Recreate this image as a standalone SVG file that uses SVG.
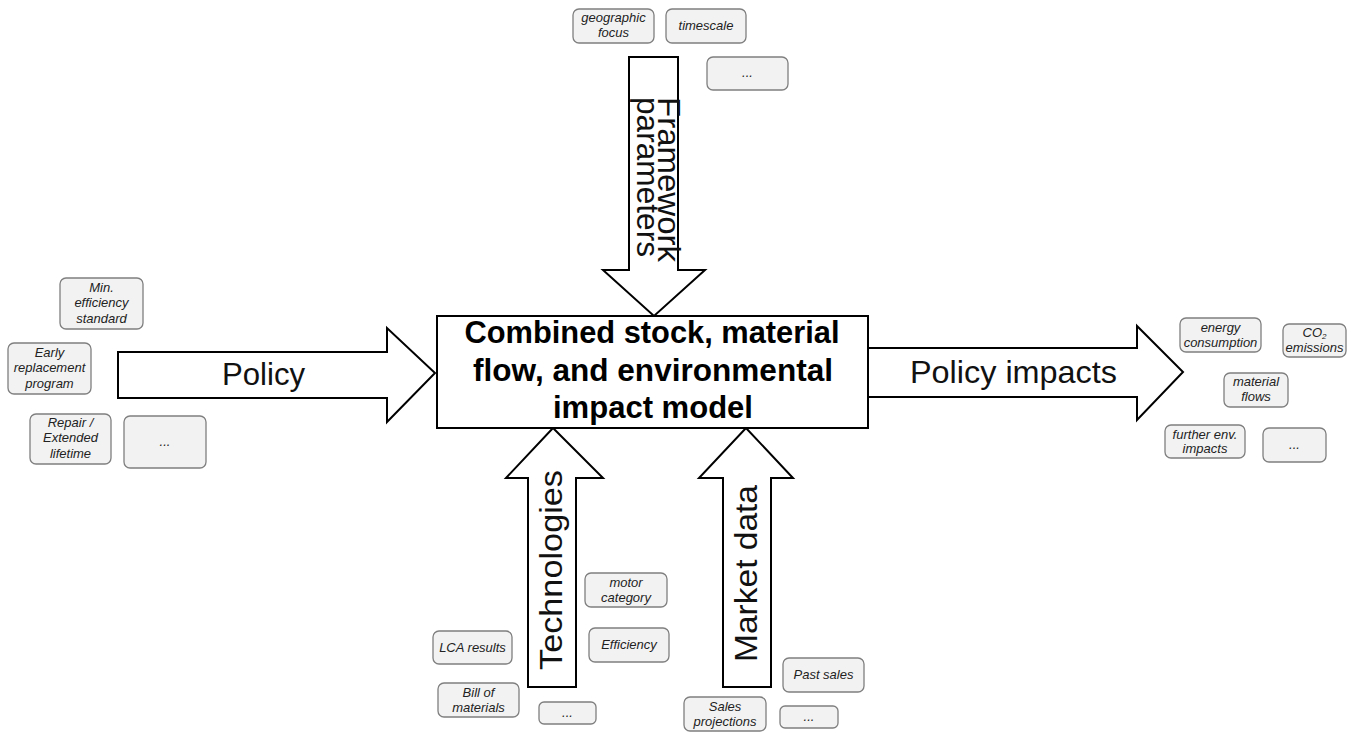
<svg xmlns="http://www.w3.org/2000/svg" width="1356" height="733" viewBox="0 0 1356 733">
<style>
.arrow{fill:#fff;stroke:#000;stroke-width:2;stroke-linejoin:miter}
.lbl{font-family:"Liberation Sans",Arial,sans-serif;font-size:32px;fill:#111}
.main{fill:#fff;stroke:#000;stroke-width:2}
.mt{font-family:"Liberation Sans",Arial,sans-serif;font-weight:bold;font-size:31px;fill:#000;text-anchor:middle}
.sb{fill:#f2f2f2;stroke:#7f7f7f;stroke-width:1.3}
.st{font-family:"Liberation Sans",Arial,sans-serif;font-style:italic;font-size:13px;fill:#222;text-anchor:middle}
</style>
<rect width="1356" height="733" fill="#fff"/>
<g id="connectors">
  <polygon class="arrow" points="629,57 678,57 678,270 705,270 654,316 603,270 629,270"/>
  <polygon class="arrow" points="118,352 387,352 387,328 435,373 387,422 387,398 118,398"/>
  <polygon class="arrow" points="868,348 1137,348 1137,326 1183,372 1137,420 1137,397 868,397"/>
  <polygon class="arrow" points="528,687 528,478 506,478 553,428 603,478 576,478 576,687"/>
  <polygon class="arrow" points="723,687 723,478 699,478 746,428 793,478 771,478 771,687"/>
  <text class="lbl" transform="translate(658,97) rotate(90)" textLength="165" lengthAdjust="spacingAndGlyphs">Framework</text>
  <text class="lbl" transform="translate(637,97) rotate(90)" textLength="160" lengthAdjust="spacingAndGlyphs">parameters</text>
  <text class="lbl" x="222" y="385" textLength="83" lengthAdjust="spacingAndGlyphs">Policy</text>
  <text class="lbl" x="910" y="383" textLength="207" lengthAdjust="spacingAndGlyphs">Policy impacts</text>
  <text class="lbl" transform="translate(562,670) rotate(-90)" textLength="200" lengthAdjust="spacingAndGlyphs" font-size="33">Technologies</text>
  <text class="lbl" transform="translate(757,662) rotate(-90)" textLength="177" lengthAdjust="spacingAndGlyphs" font-size="33">Market data</text>
</g>
<g id="model">
  <rect class="main" x="437" y="316" width="431" height="112"/>
  <text class="mt" x="652" y="343" textLength="375" lengthAdjust="spacingAndGlyphs">Combined stock, material</text>
  <text class="mt" x="653" y="381" textLength="360" lengthAdjust="spacingAndGlyphs">flow, and environmental</text>
  <text class="mt" x="653" y="418" textLength="200" lengthAdjust="spacingAndGlyphs">impact model</text>
</g>
<g id="geographic-focus"><rect class="sb" x="573" y="9" width="81" height="34" rx="6"/><text class="st" x="613.5" y="22">geographic</text><text class="st" x="613.5" y="37">focus</text></g>
<g id="timescale"><rect class="sb" x="666" y="9" width="80" height="34" rx="6"/><text class="st" x="706" y="30">timescale</text></g>
<g id="framework-more"><rect class="sb" x="707" y="57" width="81" height="33" rx="6"/><text class="st" x="747.5" y="77">...</text></g>
<g id="min-efficiency"><rect class="sb" x="60" y="278" width="83" height="51" rx="6"/><text class="st" x="101.5" y="292">Min.</text><text class="st" x="101.5" y="307">efficiency</text><text class="st" x="101.5" y="323">standard</text></g>
<g id="early-replacement"><rect class="sb" x="8" y="343" width="83" height="51" rx="6"/><text class="st" x="49.5" y="357">Early</text><text class="st" x="49.5" y="372">replacement</text><text class="st" x="49.5" y="388">program</text></g>
<g id="repair"><rect class="sb" x="30" y="414" width="81" height="50" rx="6"/><text class="st" x="70.5" y="427">Repair /</text><text class="st" x="70.5" y="442">Extended</text><text class="st" x="70.5" y="458">lifetime</text></g>
<g id="policy-more"><rect class="sb" x="124" y="416" width="82" height="52" rx="6"/><text class="st" x="165" y="446">...</text></g>
<g id="energy"><rect class="sb" x="1180" y="318" width="81" height="34" rx="6"/><text class="st" x="1220.5" y="332">energy</text><text class="st" x="1220.5" y="347">consumption</text></g>
<g id="co2"><rect class="sb" x="1283" y="324" width="63" height="33" rx="6"/><text class="st" x="1314.5" y="337">CO<tspan font-size="8" dy="1.5">2</tspan></text><text class="st" x="1314.5" y="352">emissions</text></g>
<g id="material-flows"><rect class="sb" x="1224" y="373" width="64" height="34" rx="6"/><text class="st" x="1256" y="386">material</text><text class="st" x="1256" y="401">flows</text></g>
<g id="further-env"><rect class="sb" x="1165" y="425" width="80" height="33" rx="6"/><text class="st" x="1205" y="439">further env.</text><text class="st" x="1205" y="453">impacts</text></g>
<g id="impacts-more"><rect class="sb" x="1263" y="428" width="63" height="34" rx="6"/><text class="st" x="1294.5" y="449">...</text></g>
<g id="motor-category"><rect class="sb" x="585" y="573" width="82" height="34" rx="6"/><text class="st" x="626" y="587">motor</text><text class="st" x="626" y="602">category</text></g>
<g id="lca-results"><rect class="sb" x="433" y="631" width="79" height="33" rx="6"/><text class="st" x="472.5" y="652">LCA results</text></g>
<g id="efficiency"><rect class="sb" x="589" y="628" width="80" height="34" rx="6"/><text class="st" x="629" y="649">Efficiency</text></g>
<g id="bill-of-materials"><rect class="sb" x="438" y="683" width="81" height="34" rx="6"/><text class="st" x="478.5" y="697">Bill of</text><text class="st" x="478.5" y="712">materials</text></g>
<g id="tech-more"><rect class="sb" x="539" y="702" width="57" height="22" rx="5"/><text class="st" x="567.5" y="717">...</text></g>
<g id="past-sales"><rect class="sb" x="783" y="658" width="81" height="34" rx="6"/><text class="st" x="823.5" y="679">Past sales</text></g>
<g id="sales-projections"><rect class="sb" x="684" y="697" width="82" height="34" rx="6"/><text class="st" x="725" y="711">Sales</text><text class="st" x="725" y="726">projections</text></g>
<g id="market-more"><rect class="sb" x="780" y="706" width="58" height="22" rx="5"/><text class="st" x="809" y="721">...</text></g>
</svg>
